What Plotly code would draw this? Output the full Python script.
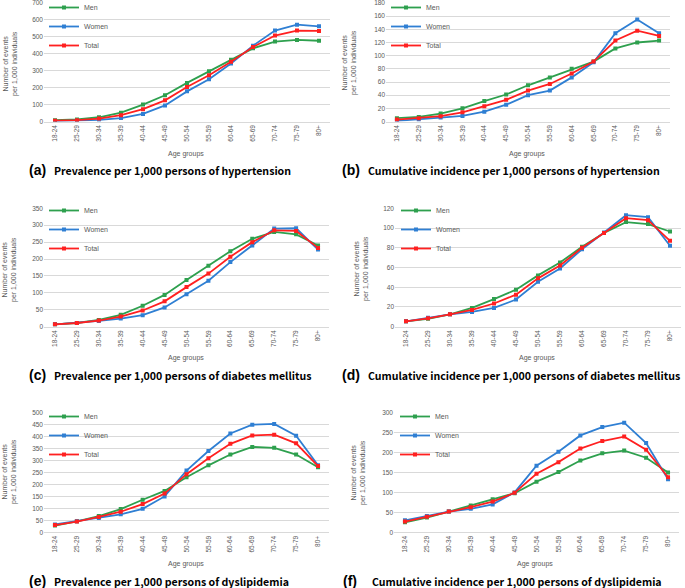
import plotly.graph_objects as go

age_groups = ["18-24", "25-29", "30-34", "35-39", "40-44", "45-49", "50-54",
              "55-59", "60-64", "65-69", "70-74", "75-79", "80+"]
series_names = ["Men", "Women", "Total"]

# (a) Prevalence of hypertension
htn_prev_men = [8, 12, 25, 52, 100, 155, 228, 297, 365, 432, 472, 482, 477]
htn_prev_women = [2, 5, 10, 20, 45, 95, 178, 250, 342, 448, 537, 572, 562]
htn_prev_total = [5, 8, 17, 37, 73, 125, 204, 273, 353, 440, 508, 537, 535]

# (b) Cumulative incidence of hypertension
htn_inc_men = [5, 7, 12, 20, 31, 41, 55, 67, 80, 91, 111, 120, 123]
htn_inc_women = [1, 3, 6, 8.5, 15, 25.5, 40, 47, 67, 90, 134, 155, 134]
htn_inc_total = [3, 5, 8, 14, 23, 33, 47, 57, 73, 91, 123, 138, 130]

# (c) Prevalence of diabetes mellitus
dm_prev_men = [7, 11, 20, 35, 62, 94, 138, 180, 223, 260, 280, 273, 240]
dm_prev_women = [7, 11, 17, 24, 34, 57, 96, 136, 191, 240, 290, 291, 228]
dm_prev_total = [7, 11, 18, 30, 48, 75, 117, 157, 207, 250, 285, 283, 233]

# (d) Cumulative incidence of diabetes mellitus
dm_inc_men = [5.5, 8, 12.5, 19, 28, 37.5, 52, 65, 81, 95, 106, 104, 96.5]
dm_inc_women = [5.5, 9, 12.5, 15, 19, 27.5, 45.5, 59, 78.5, 95.5, 113, 111, 82]
dm_inc_total = [5.5, 8.5, 12.5, 17, 23.5, 32.5, 49, 62, 80, 95, 110, 108, 87]

# (e) Prevalence of dyslipidemia
dl_prev_men = [28, 46, 68, 97, 136, 173, 230, 280, 325, 357, 353, 325, 272]
dl_prev_women = [33, 46, 60, 75, 98, 150, 258, 340, 413, 450, 453, 404, 280]
dl_prev_total = [30, 45, 64, 86, 118, 162, 243, 310, 370, 405, 408, 372, 277]

# (f) Cumulative incidence of dyslipidemia
dl_inc_men = [25, 37, 52, 67, 83, 98, 127, 151, 180, 198, 205, 187, 150]
dl_inc_women = [30, 41, 52, 59, 70, 100, 167, 202, 243, 264, 275, 224, 133]
dl_inc_total = [27, 39, 52, 63, 77, 99, 147, 176, 210, 229, 240, 207, 138]

panel_labels = ["(a)", "(b)", "(c)", "(d)", "(e)", "(f)"]
panel_titles = [
    "Prevalence per 1,000 persons of hypertension",
    "Cumulative incidence per 1,000 persons of hypertension",
    "Prevalence per 1,000 persons of diabetes mellitus",
    "Cumulative incidence per 1,000 persons of diabetes mellitus",
    "Prevalence per 1,000 persons of dyslipidemia",
    "Cumulative incidence per 1,000 persons of dyslipidemia",
]
y_max = [700, 180, 350, 120, 500, 300]
y_step = [100, 20, 50, 20, 50, 50]
y_title = "Number of events<br>per 1,000 individuals"
x_title = "Age groups"

data = [
    (htn_prev_men, htn_prev_women, htn_prev_total),
    (htn_inc_men, htn_inc_women, htn_inc_total),
    (dm_prev_men, dm_prev_women, dm_prev_total),
    (dm_inc_men, dm_inc_women, dm_inc_total),
    (dl_prev_men, dl_prev_women, dl_prev_total),
    (dl_inc_men, dl_inc_women, dl_inc_total),
]

W, H = 685, 588
colors = ["#2ea04e", "#2f7fd3", "#ff2020"]
gray = "#595959"
grid = "#d9d9d9"
small_font = "Liberation Sans, Arial, sans-serif"
title_font = "Noto Sans CJK KR, Noto Sans, sans-serif"

# layout geometry (pixels)
plot_x = [(44, 330), (386, 670), (44, 329), (395, 681), (44, 329), (394, 679)]
plot_y = [(3, 121.5), (3, 121.5), (208.3, 326.7), (208.3, 326.7), (412.7, 532.3), (412.7, 532.3)]
legend_pos = [(44, 26), (386, 26), (44, 229), (396, 229), (44, 435), (395, 435)]  # middle entry
ytitle_pos = [(10, 64), (350, 63), (9, 270), (361, 268), (9, 472), (359, 473)]
xtitle_pos = [(186, 154), (527, 154), (186, 358), (537, 358), (186, 564), (535, 564)]
label_pos = [(27, 170), (340, 170), (27, 375), (340, 375), (27, 581), (341, 581)]
title_pos = [(52, 170), (366, 170), (52, 375), (366, 375), (52, 581), (370, 581)]

def px(x):
    return x / W

def py(y):
    return 1 - y / H

fig = go.Figure()
annotations = []
layout = {}

for i in range(6):
    n = i + 1
    xa = "x" if n == 1 else f"x{n}"
    ya = "y" if n == 1 else f"y{n}"
    lg = "legend" if n == 1 else f"legend{n}"
    for s in range(3):
        fig.add_trace(go.Scatter(
            x=age_groups, y=data[i][s], name=series_names[s], mode="lines+markers",
            line=dict(color=colors[s], width=1.8),
            marker=dict(color=colors[s], size=4, symbol="square"),
            xaxis=xa, yaxis=ya, legend=lg, showlegend=True,
        ))
    xk = "xaxis" if n == 1 else f"xaxis{n}"
    yk = "yaxis" if n == 1 else f"yaxis{n}"
    layout[xk] = dict(
        domain=[px(plot_x[i][0]), px(plot_x[i][1])], anchor=ya,
        type="category", range=[-0.5, 12.5], tickangle=-90,
        tickfont=dict(size=6.5, color=gray, family=small_font),
        showgrid=False, showline=True, linecolor=grid, linewidth=1,
        ticks="", fixedrange=True,
    )
    layout[yk] = dict(
        domain=[py(plot_y[i][1]), py(plot_y[i][0])], anchor=xa,
        range=[0, y_max[i]], dtick=y_step[i], tick0=0,
        tickfont=dict(size=6.5, color=gray, family=small_font),
        showgrid=True, gridcolor=grid, gridwidth=1, zeroline=False,
        showline=False, ticks="", fixedrange=True, ticklabeloverflow="allow",
    )
    lx, ly = legend_pos[i]
    layout[lg] = dict(
        x=px(lx), y=py(ly - 33), xanchor="left", yanchor="top",
        bgcolor="rgba(0,0,0,0)", borderwidth=0, itemwidth=30,
        font=dict(size=7, color=gray, family=small_font),
        tracegroupgap=0,
    )
    annotations.append(dict(
        x=px(ytitle_pos[i][0]), y=py(ytitle_pos[i][1]), xref="paper", yref="paper",
        text=y_title, showarrow=False, textangle=-90,
        font=dict(size=7, color=gray, family=small_font),
        xanchor="center", yanchor="middle",
    ))
    annotations.append(dict(
        x=px(xtitle_pos[i][0]), y=py(xtitle_pos[i][1]), xref="paper", yref="paper",
        text=x_title, showarrow=False,
        font=dict(size=7, color=gray, family=small_font),
        xanchor="center", yanchor="middle",
    ))
    annotations.append(dict(
        x=px(label_pos[i][0]), y=py(label_pos[i][1]), xref="paper", yref="paper",
        text="<b>" + panel_labels[i] + "</b>", showarrow=False,
        font=dict(size=14, color="#000000", family="Liberation Sans, Arial, sans-serif"),
        xanchor="left", yanchor="middle",
    ))
    annotations.append(dict(
        x=px(title_pos[i][0]), y=py(title_pos[i][1]), xref="paper", yref="paper",
        text="<b>" + panel_titles[i] + "</b>", showarrow=False,
        font=dict(size=10.6, color="#000000", family=title_font),
        xanchor="left", yanchor="middle",
    ))

fig.update_layout(
    width=W, height=H, margin=dict(l=0, r=0, t=0, b=0, autoexpand=False),
    paper_bgcolor="white", plot_bgcolor="white",
    annotations=annotations, **layout,
)

fig.write_html("out.html", config={"displayModeBar": False},
               post_script="document.body.style.margin='0px';")
